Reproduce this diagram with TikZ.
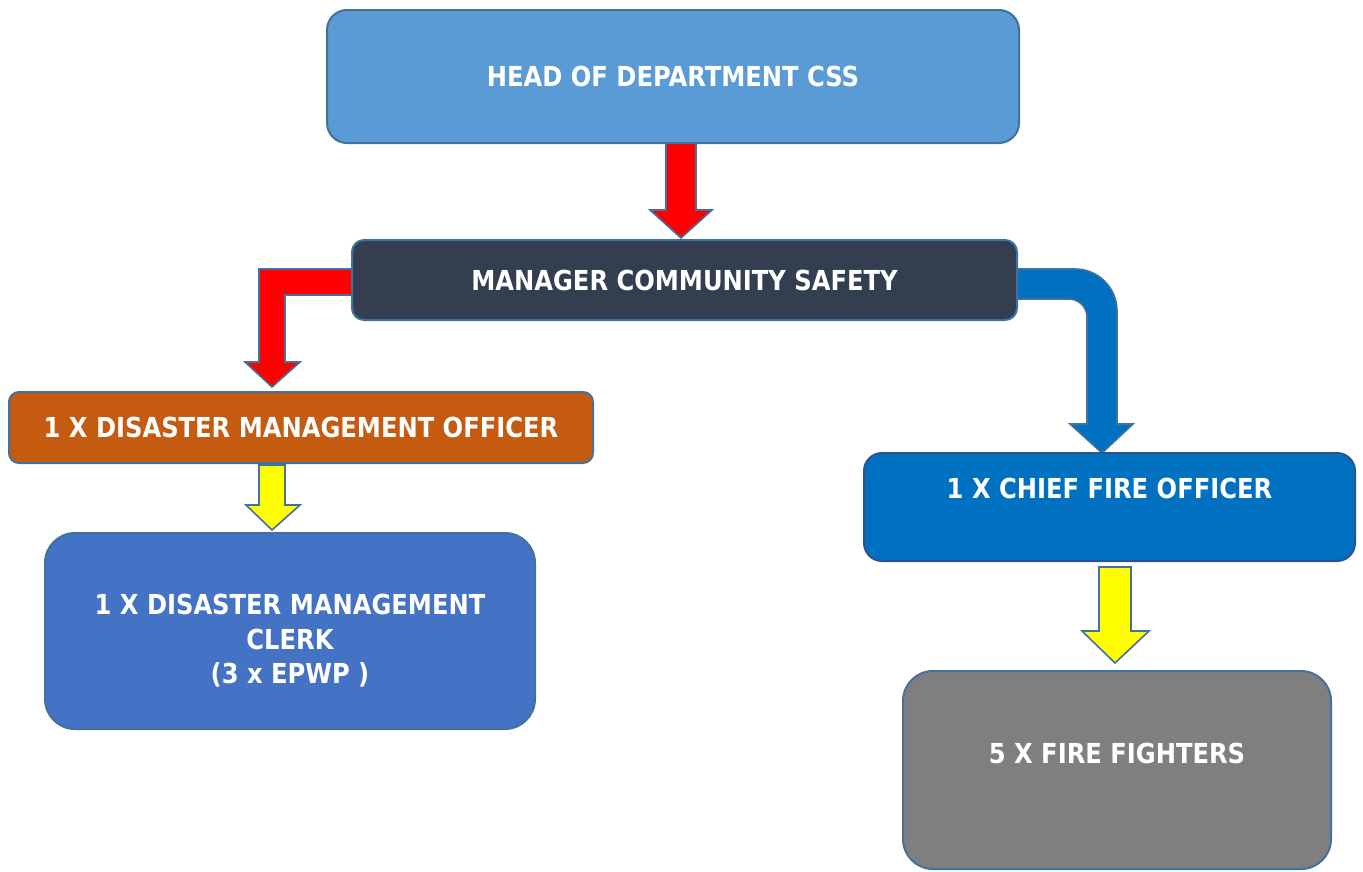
\documentclass[tikz,border=0pt]{standalone}
\usepackage{fontspec}
\setmainfont{DejaVu Sans}[FakeStretch=0.88]
\usetikzlibrary{backgrounds}
\definecolor{edgeblue}{HTML}{41719C}
\definecolor{headfill}{HTML}{5B9BD5}
\definecolor{mgrfill}{HTML}{333F50}
\definecolor{dmofill}{HTML}{C55A11}
\definecolor{clerkfill}{HTML}{4472C4}
\definecolor{chieffill}{HTML}{0070C0}
\definecolor{chiefedge}{HTML}{2F528F}
\definecolor{firefill}{HTML}{7F7F7F}
\definecolor{arrred}{HTML}{FF0000}
\definecolor{arryellow}{HTML}{FFFF00}
\definecolor{arrblue}{HTML}{0070C0}
\tikzset{
  box/.style={draw=edgeblue, line width=2pt, rectangle, inner sep=0pt,
    text=white, font=\fontsize{27.5}{34.5}\selectfont\bfseries, align=center},
  lbl/.style={text=white, font=\fontsize{27.5}{34.5}\selectfont\bfseries, align=center, inner sep=0pt},
  blockarrow/.style={draw=edgeblue, line width=1.6pt, line join=miter}
}
\begin{document}
\begin{tikzpicture}[x=1pt, y=-1pt]
\useasboundingbox (0,0) rectangle (1363,871);

% organisation boxes
\node[box, fill=headfill, rounded corners=20pt, minimum width=692pt, minimum height=133pt]
  (head) at (673,76.5) {HEAD OF DEPARTMENT CSS};
\node[box, fill=mgrfill, rounded corners=12pt, minimum width=665pt, minimum height=80pt]
  (mgr) at (684.5,280) {MANAGER COMMUNITY SAFETY};
\node[box, fill=dmofill, rounded corners=10pt, minimum width=584pt, minimum height=71pt]
  (dmo) at (301,427.5) {1 X DISASTER MANAGEMENT OFFICER};
\node[box, fill=clerkfill, rounded corners=30pt, minimum width=490pt, minimum height=196pt]
  (clerk) at (290,631) {};
\node[lbl] (clerktxt) at ([yshift=-10pt]clerk.center)
  {1 X DISASTER MANAGEMENT\\CLERK\\(3 x EPWP )};
\node[box, draw=chiefedge, fill=chieffill, rounded corners=18pt, minimum width=491pt, minimum height=108pt]
  (chief) at (1109.5,507) {};
\node[lbl] (chieftxt) at ([yshift=19pt]chief.center) {1 X CHIEF FIRE OFFICER};
\node[box, fill=firefill, rounded corners=30pt, minimum width=428pt, minimum height=198pt]
  (fire) at (1117,770) {};
\node[lbl] (firetxt) at ([yshift=17pt]fire.center) {5 X FIRE FIGHTERS};

% block arrows between the levels
\begin{scope}[on background layer]
  % head -> manager
  \draw[blockarrow, fill=arrred]
    (666,143) -- (666,210) -- (650,210) -- (681,238) -- (712,210) -- (696,210) -- (696,143) -- cycle;
  % manager -> disaster management officer
  \draw[blockarrow, fill=arrred]
    (354,269) -- (259,269) -- (259,362) -- (245,362) -- (272,387) -- (300,362)
    -- (285,362) -- (285,295) -- (354,295) -- cycle;
  % manager -> chief fire officer
  \draw[blockarrow, fill=arrblue]
    (1012,269) -- (1075,269) .. controls (1098.2,269) and (1117,287.8) .. (1117,311)
    -- (1117,424) -- (1133,424) -- (1102,453) -- (1070,424) -- (1087,424) -- (1087,317)
    .. controls (1087,307.1) and (1078.9,299) .. (1069,299) -- (1012,299) -- cycle;
  % disaster management officer -> clerk
  \draw[blockarrow, fill=arryellow]
    (259,465) -- (285,465) -- (285,505) -- (300,505) -- (272,530) -- (246,505) -- (259,505) -- cycle;
  % chief fire officer -> fire fighters
  \draw[blockarrow, fill=arryellow]
    (1099,567) -- (1131,567) -- (1131,631) -- (1149,631) -- (1115,663) -- (1082,631) -- (1099,631) -- cycle;
\end{scope}
\end{tikzpicture}
\end{document}
